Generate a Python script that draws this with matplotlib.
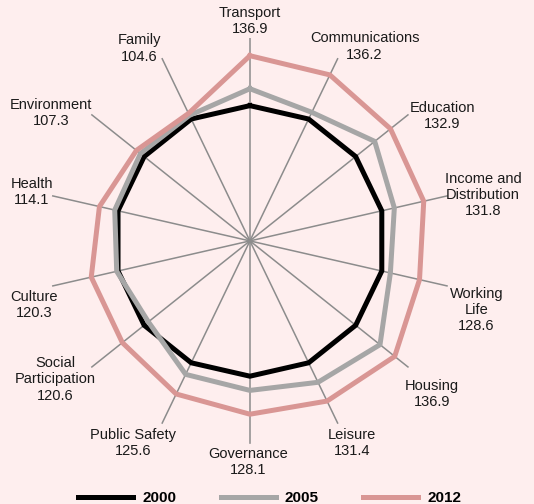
import numpy as np
import matplotlib
matplotlib.use("Agg")
import matplotlib.pyplot as plt

#########################
#####     DATA      #####
#########################
categories = ["Transport", "Communications", "Education", "Income and\nDistribution",
              "Working\nLife", "Housing", "Leisure", "Governance", "Public Safety",
              "Social\nParticipation", "Culture", "Health", "Environment", "Family"]
years = ["2000", "2005", "2012"]
v2000 = [100, 100, 100, 100, 100, 100, 100, 100, 100, 100, 100, 100, 100, 100]
v2005 = [112.5, 105.5, 118, 109.5, 106.5, 123, 116, 110.5, 109.5, 96, 101, 102.5, 103.5, 103]
v2012 = [136.9, 136.2, 132.9, 131.8, 128.6, 136.9, 131.4, 128.1, 125.6, 120.6, 120.3, 114.1, 107.3, 104.6]

colors = ["#000000", "#A6A6A6", "#D99694"]
bg = "#FEEEEE"
rmax = 150

### extra nudges for the labels (pixels, x right / y down)
label_nudge = [(0, 1), (-30, 6), (-2, 3), (-7, 0), (-2, 0), (-7, 10), (-12, 2),
               (-2, 0), (16, 2), (8, -13), (10, 3), (5, -3), (4, 0), (1, 8)]

plt.rcParams["font.family"] = ["Liberation Sans", "DejaVu Sans"]

#####################
#####   LOGIC   #####
#####################
n = len(categories)
theta = np.arange(n) * 2 * np.pi / n
px = 72.0 / 100  # points per pixel

fig = plt.figure(figsize=(5.34, 5.04), dpi=100, facecolor=bg)
ax = fig.add_axes([0.088, 0.119, 0.760, 0.806], projection="polar")
ax.set_facecolor(bg)
ax.set_theta_zero_location("N")
ax.set_theta_direction(-1)
ax.set_ylim(0, rmax)
ax.grid(False)
ax.spines["polar"].set_visible(False)
ax.set_xticks([])
ax.set_yticks([])

### Spokes
for t in theta:
    ax.plot([t, t], [0, rmax], color="#8C8C8C", linewidth=1.1, zorder=1)

### Series (closed polygons)
for vals, c, lab in zip([v2000, v2005, v2012], colors, years):
    vv = list(vals) + [vals[0]]
    tt = list(theta) + [theta[0]]
    ax.plot(tt, vv, color=c, linewidth=3.6, label=lab, zorder=2,
            solid_joinstyle="miter")

### Category labels with 2012 value
for t, cat, val, (nx, ny) in zip(theta, categories, v2012, label_nudge):
    s, c = np.sin(t), np.cos(t)
    ha = "center" if abs(s) < 0.3 else ("left" if s > 0 else "right")
    if c > 0.7:
        va = "bottom"
    elif c < -0.15:
        va = "top"
    else:
        va = "center"
    ax.annotate("%s\n%.1f" % (cat, val), xy=(t, rmax),
                xytext=(3 * s + nx * px, 2 * c - ny * px),
                textcoords="offset points", ha=ha, va=va, ma="center",
                fontsize=10.5, color="#1A1A1A", annotation_clip=False)

leg = fig.legend(loc="lower center", bbox_to_anchor=(0.505, -0.024), ncol=3, frameon=False,
                 handlelength=3.6, handletextpad=0.6, columnspacing=2.9,
                 borderpad=0.2, prop={"weight": "bold", "size": 11})

fig.savefig("out.png", dpi=100, facecolor=bg)
